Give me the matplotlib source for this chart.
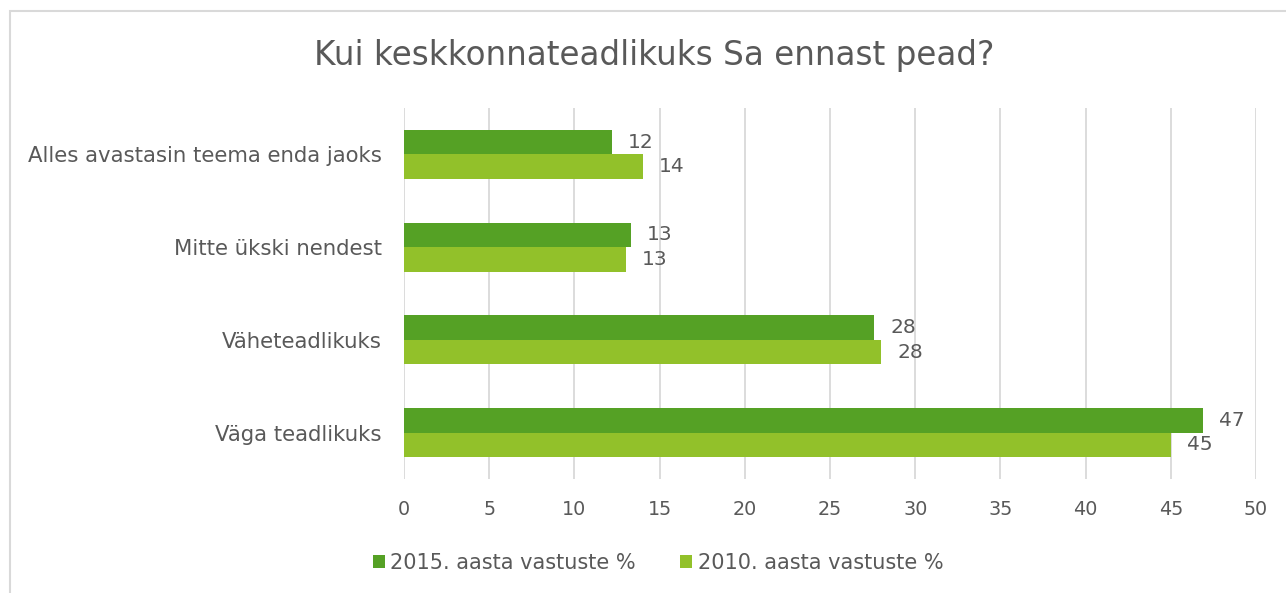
import matplotlib.pyplot as plt
import numpy as np
from matplotlib.patches import Rectangle

# data
categories = ["Väga teadlikuks", "Väheteadlikuks", "Mitte ükski nendest", "Alles avastasin teema enda jaoks"]
values_2015 = [46.9, 27.6, 13.3, 12.2]
values_2010 = [45.0, 28.0, 13.0, 14.0]
labels_2015 = ["47", "28", "13", "12"]
labels_2010 = ["45", "28", "13", "14"]
series_names = ["2015. aasta vastuste %", "2010. aasta vastuste %"]
x_ticks = [0, 5, 10, 15, 20, 25, 30, 35, 40, 45, 50]

c2015 = "#55a125"
c2010 = "#92c12a"
text_col = "#595959"
grid_col = "#d9d9d9"

plt.rcParams['font.family'] = ['DejaVu Sans']

fig = plt.figure(figsize=(12.86, 5.93), dpi=100)
ax = fig.add_axes([404/1286, 1-479/593, (1256-404)/1286, (479-108)/593])

y = np.arange(len(categories))
h = 0.263
b1 = ax.barh(y + h/2, values_2015, height=h, color=c2015, label=series_names[0], zorder=3)
b2 = ax.barh(y - h/2, values_2010, height=h, color=c2010, label=series_names[1], zorder=3)

for bars, labs in [(b1, labels_2015), (b2, labels_2010)]:
    for bar, lab in zip(bars, labs):
        ax.annotate(lab, (bar.get_width(), bar.get_y() + bar.get_height()/2),
                    xytext=(11.5, 0), textcoords="offset points", va="center", ha="left",
                    fontsize=14.5, color=text_col)

ax.set_xlim(0, 50)
ax.set_ylim(-0.5, 3.5)
ax.set_xticks(x_ticks)
ax.set_yticks(y)
ax.set_yticklabels(categories)
ax.tick_params(axis="both", length=0, labelcolor=text_col)
ax.tick_params(axis="y", pad=16, labelsize=15.3)
ax.tick_params(axis="x", pad=15, labelsize=13.8)
ax.grid(axis="x", color=grid_col, linewidth=1.3, zorder=0)
for s in ax.spines.values():
    s.set_visible(False)

fig.text(654/1286, 1-55/593, "Kui keskkonnateadlikuks Sa ennast pead?", ha="center", va="center",
         fontsize=23.5, color=text_col)

fig.legend(handles=[b1, b2], loc="center", bbox_to_anchor=(658/1286, 1-563/593), ncol=2,
           frameon=False, fontsize=15, labelcolor=text_col, handlelength=0.6, handleheight=0.6,
           handletextpad=0.25, columnspacing=2.1)

# chart border
fig.add_artist(Rectangle((10/1286, -0.1), 1.2, 1-11/593+0.1, transform=fig.transFigure,
                         fill=False, edgecolor=grid_col, linewidth=1.5))

fig.savefig("out.png", dpi=100)
